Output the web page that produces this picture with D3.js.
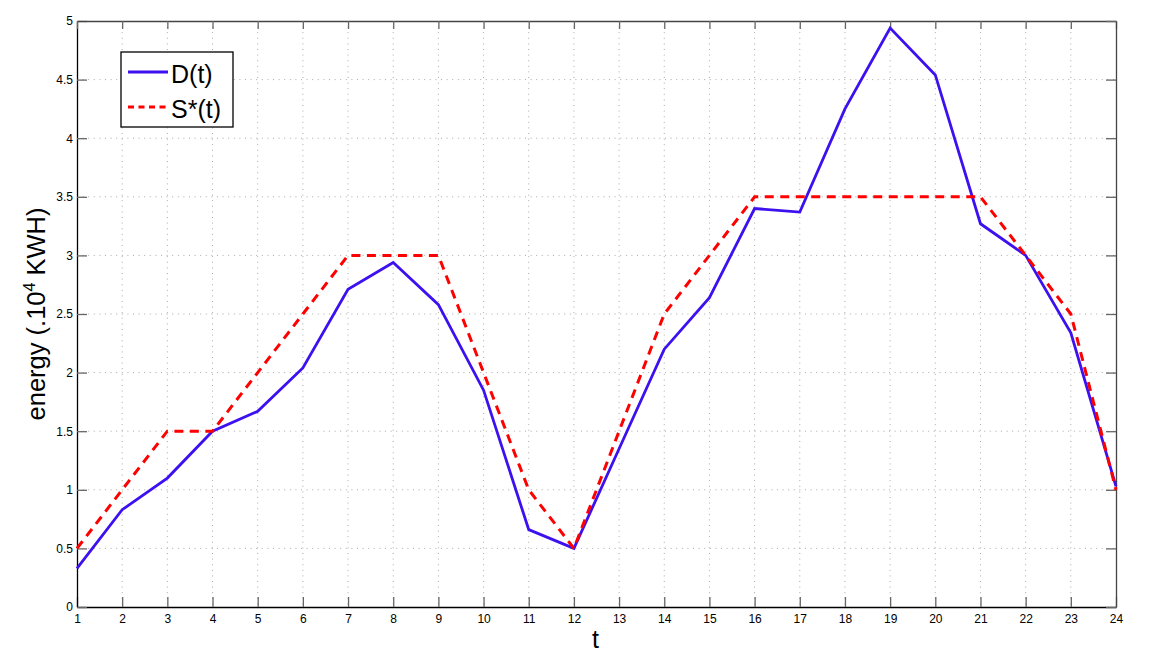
<!DOCTYPE html>
<html>
<head>
<meta charset="utf-8">
<script src="https://cdn.jsdelivr.net/npm/d3@7"></script>
<style>
  html, body { margin: 0; padding: 0; background: #fff; }
  svg { display: block; }
  text { font-family: "Liberation Sans", Arial, Helvetica, sans-serif; }
</style>
</head>
<body>
<svg id="chart" width="1172" height="664"></svg>
<script>
// ---- data ----
const hours = [1,2,3,4,5,6,7,8,9,10,11,12,13,14,15,16,17,18,19,20,21,22,23,24];
const demand = [0.33,0.83,1.10,1.50,1.67,2.04,2.71,2.94,2.58,1.85,0.66,0.50,1.35,2.20,2.64,3.40,3.37,4.25,4.94,4.54,3.27,3.00,2.34,1.03];
const supply = [0.5,1.0,1.5,1.5,2.0,2.5,3.0,3.0,3.0,2.0,1.0,0.5,1.5,2.5,3.0,3.5,3.5,3.5,3.5,3.5,3.5,3.0,2.5,1.0];
const yTicks = [0,0.5,1,1.5,2,2.5,3,3.5,4,4.5,5];
const seriesNames = ["D(t)", "S*(t)"];

const svg = d3.select("#chart");
const L = 77, R = 1116, T = 21, B = 607;

const x = d3.scaleLinear().domain([1,24]).range([L,R]);
const y = d3.scaleLinear().domain([0,5]).range([B,T]);

// grid
const grid = svg.append("g");
grid.selectAll("line.vg").data(hours.slice(1,-1)).enter().append("line")
  .attr("x1", d=>x(d)).attr("x2", d=>x(d)).attr("y1", T).attr("y2", B)
  .attr("stroke", "#a8a8a8").attr("stroke-width", 1).attr("stroke-dasharray", "1,4.6");
grid.selectAll("line.hg").data(yTicks.slice(1,-1)).enter().append("line")
  .attr("x1", L).attr("x2", R).attr("y1", d=>y(d)).attr("y2", d=>y(d))
  .attr("stroke", "#a8a8a8").attr("stroke-width", 1).attr("stroke-dasharray", "1,4.6");

// axes
const xAxis = d3.axisBottom(x).tickValues(hours).tickFormat(d3.format("d")).tickSizeInner(-10).tickSizeOuter(0).tickPadding(7);
const gx = svg.append("g").attr("transform", `translate(0,${B})`).call(xAxis);
const yAxis = d3.axisLeft(y).tickValues(yTicks).tickFormat(d=>String(d)).tickSizeInner(-10).tickSizeOuter(0).tickPadding(4);
const gy = svg.append("g").attr("transform", `translate(${L},0)`).call(yAxis);
const xTop = d3.axisTop(x).tickValues(hours).tickFormat("").tickSizeInner(-8).tickSizeOuter(0);
const gxt = svg.append("g").attr("transform", `translate(0,${T})`).call(xTop);
const yRight = d3.axisRight(y).tickValues(yTicks).tickFormat("").tickSizeInner(-10).tickSizeOuter(0);
const gyr = svg.append("g").attr("transform", `translate(${R},0)`).call(yRight);

[gx, gy, gxt, gyr].forEach(g => {
  g.select(".domain").attr("stroke", "#000").attr("stroke-width", 1.3);
  g.selectAll(".tick line").attr("stroke", "#666").attr("stroke-width", 1.3);
  g.selectAll(".tick text").attr("font-size", 12).attr("fill", "#000");
});
gxt.select(".domain").attr("stroke", "#444");
gyr.select(".domain").attr("stroke", "#444");

// lines
const line = d3.line().x((d,i)=>x(hours[i])).y(d=>y(d));
svg.append("path").datum(demand).attr("d", line)
  .attr("fill", "none").attr("stroke", "#3d10f0").attr("stroke-width", 2.8).attr("stroke-linejoin", "miter");
svg.append("path").datum(supply).attr("d", line)
  .attr("fill", "none").attr("stroke", "#ff0000").attr("stroke-width", 3).attr("stroke-dasharray", "9,6.5");

// labels
svg.append("text").attr("x", (L+R)/2 - 1).attr("y", 648).attr("text-anchor", "middle")
  .attr("font-size", 25).text("t");
const yl = svg.append("text").attr("transform", `translate(45,${(T+B)/2}) rotate(-90)`)
  .attr("text-anchor", "middle").attr("font-size", 25.5);
yl.append("tspan").text("energy (.10");
yl.append("tspan").attr("font-size", 16).attr("dy", -10).text("4");
yl.append("tspan").attr("dy", 10).text(" KWH)");

// legend
const lg = svg.append("g");
lg.append("rect").attr("x", 121).attr("y", 52).attr("width", 112).attr("height", 75)
  .attr("fill", "#fff").attr("stroke", "#000").attr("stroke-width", 1.3);
const rows = [{n: seriesNames[0], c: "#3d10f0", dash: null, y: 72},
              {n: seriesNames[1], c: "#ff0000", dash: "6,4.5", y: 107}];
rows.forEach(r => {
  lg.append("line").attr("x1", 128).attr("x2", 168).attr("y1", r.y).attr("y2", r.y)
    .attr("stroke", r.c).attr("stroke-width", 2.8).attr("stroke-dasharray", r.dash);
  lg.append("text").attr("x", 171).attr("y", r.y + 11).attr("font-size", 25).text(r.n);
});
</script>
</body>
</html>
